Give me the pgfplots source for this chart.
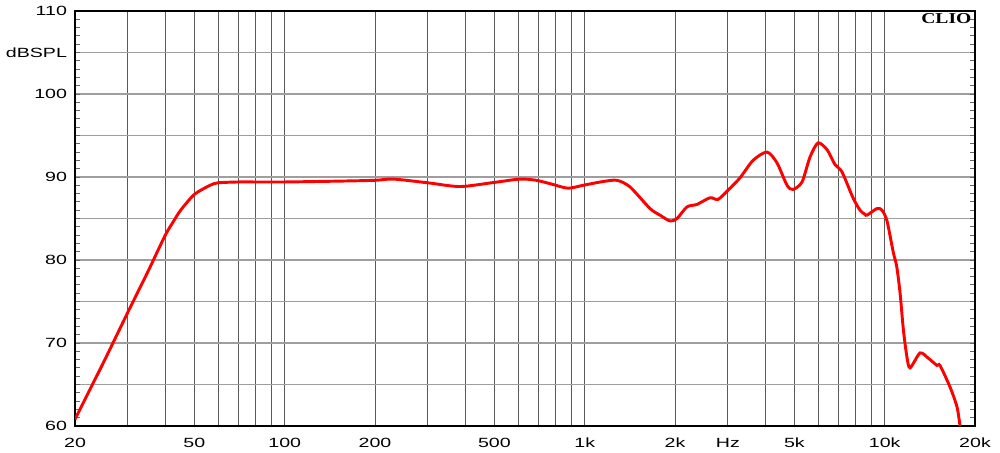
\documentclass[border=0pt]{standalone}
\usepackage{pgfplots}
\pgfplotsset{compat=1.18}
\usepackage{fontspec}
\setmainfont{Liberation Sans}
\newfontfamily\cliofont{Liberation Serif}
\usepackage{graphicx}
\newcommand\sx[1]{\scalebox{1.47}[1]{#1}}

\pgfplotstableread{
f db
20 60.8
22.5 64.5
25 67.8
30 73.7
35 78.6
40 83.0
42.5 84.6
45 86.0
50 87.9
56.4 89.0
60 89.3
70 89.4
80 89.4
100 89.4
150 89.5
200 89.6
230 89.75
300 89.3
384 88.85
500 89.35
609 89.75
690 89.6
784 89.1
880 88.65
988 89.0
1150 89.45
1281 89.6
1416 88.8
1651 86.2
1783 85.4
1925 84.7
2031 85.0
2193 86.4
2368 86.7
2616 87.5
2782 87.3
3004 88.4
3294 89.9
3640 92.0
4052 93.0
4375 91.7
4726 89.0
4948 88.5
5302 89.4
5636 92.4
5994 94.1
6422 93.3
6828 91.5
7207 90.6
7840 87.5
8274 86.0
8597 85.5
8730 85.4
9428 86.2
9796 86.0
10178 84.7
10683 80.9
10956 79.3
11246 76.1
11533 71.7
11838 68.5
12142 67.0
13114 68.8
13942 68.2
14938 67.3
15285 67.3
16508 64.7
17420 62.3
17825 60.0
}\spl

\begin{document}
\begin{tikzpicture}
\path[use as bounding box] (-56.25pt,-20.25pt) rectangle (693.75pt,319.5pt);
\begin{axis}[
  at={(0,0)}, anchor=south west,
  scale only axis, width=675pt, height=311.25pt,
  xmode=log, xmin=20, xmax=20000, ymin=60, ymax=110,
  xtick={20,30,40,50,60,70,80,90,100,200,300,400,500,600,700,800,900,1000,2000,3000,4000,5000,6000,7000,8000,9000,10000,20000},
  xticklabels={\sx{20},,,\sx{50},,,,,\sx{100},\sx{200},,,\sx{500},,,,,\sx{1k},\sx{2k},\sx{Hz},,\sx{5k},,,,,\sx{10k},\sx{20k}},
  xminorticks=false,
  ytick={60,65,...,110},
  yticklabels={\sx{60},,\sx{70},,\sx{80},,\sx{90},,\sx{100},\sx{dBSPL},\sx{110}},
  minor ytick={60,61,...,110},
  major tick length=0pt, minor tick length=3.5pt,
  every minor tick/.append style={black!60, line width=0.6pt},
  grid=major,
  major x grid style={black!65, line width=0.6pt},
  major y grid style={black!38, line width=0.9pt},
  axis line style={line width=2pt},
  tick label style={font=\fontsize{10}{10}\selectfont, black},
  xticklabel style={yshift=-5.5pt},
  yticklabel style={xshift=-2.5pt},
  clip=true,
]
\addplot[red, line width=2.2pt, smooth, tension=0.45] table[x=f, y=db] {\spl};
\node[anchor=north east, inner sep=0pt, font=\cliofont\bfseries\fontsize{11.3}{12}\selectfont] at ([xshift=-2.5pt,yshift=-1.6pt]rel axis cs:1,1) {\scalebox{1.3}[1]{CLIO}};
\end{axis}
\end{tikzpicture}
\end{document}
